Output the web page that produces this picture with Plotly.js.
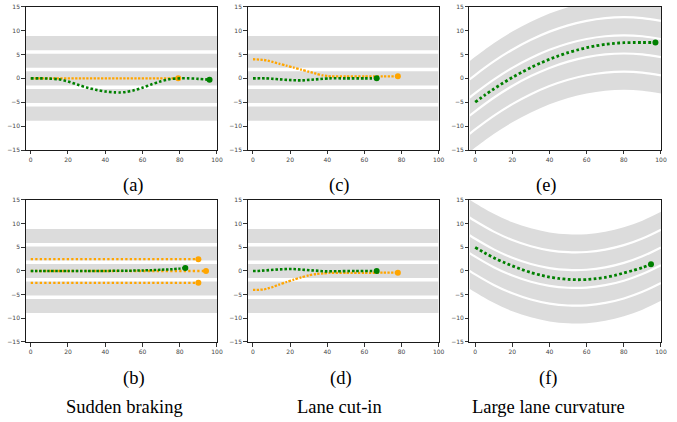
<!DOCTYPE html>
<html><head><meta charset="utf-8">
<script src="https://cdn.plot.ly/plotly-3.0.1.min.js"></script>
<style>html,body{margin:0;padding:0;background:#fff}#chart{width:677px;height:422px}</style>
</head><body><div id="chart"></div>
<script>
// ---------- data ----------
const panelLabels = ["(a)", "(c)", "(e)", "(b)", "(d)", "(f)"];
const captions = ["Sudden braking", "Lane cut-in", "Large lane curvature"];
const xTicks = [0, 20, 40, 60, 80, 100];
const yTicks = [-15, -10, -5, 0, 5, 10, 15];

// straight road: outer edges and lane boundaries
const straightX = [-3, 100];
const straightEdges = [-8.86, 8.86];
const straightBounds = [-5.52, -1.85, 1.85, 5.52];

// curved roads: centre line samples and lane offsets
const curveX = [-3, 0, 10, 20, 30, 40, 50, 60, 70, 80, 90, 100];
const eCenter = [-5.92, -5.0, -2.16, 0.30, 2.37, 4.08, 5.40, 6.34, 6.91, 7.10, 6.91, 6.34];
const fCenter = [5.67, 4.92, 2.69, 0.92, -0.39, -1.26, -1.66, -1.62, -1.12, -0.17, 1.24, 3.10];
const eEdges = [-9.5, 9.5];
const eBounds = [-5.7, -1.9, 1.9, 5.7];
const fEdges = [-9.4, 9.4];
const fBounds = [-5.63, -1.88, 1.88, 5.63];

// (a) sudden braking? (top-left)
const aGreenX = [0, 5, 10, 15, 20, 25, 30, 35, 40, 45, 48, 50, 55, 60, 65, 70, 75, 80, 85, 90, 96];
const aGreenY = [0, 0, -0.05, -0.2, -0.65, -1.3, -1.9, -2.4, -2.75, -2.93, -2.95, -2.9, -2.55, -1.95, -1.25, -0.6, -0.15, 0, 0, -0.1, -0.3];
const aOrangeX = [0, 79.2];
const aOrangeY = [0, 0];

// (b)
const bGreenX = [0, 10, 20, 30, 40, 50, 55, 60, 65, 70, 75, 80, 83];
const bGreenY = [0, 0, 0, 0, 0.02, 0.05, 0.08, 0.12, 0.18, 0.26, 0.36, 0.5, 0.65];
const bOrangeTopX = [0, 90];
const bOrangeTopY = [2.5, 2.5];
const bOrangeMidX = [0, 94.1];
const bOrangeMidY = [0, 0];
const bOrangeLowX = [0, 90];
const bOrangeLowY = [-2.5, -2.5];

// (c)
const cGreenX = [0, 7, 10, 14.5, 19.4, 24.2, 26.6, 31.5, 36.3, 41.1, 50, 60, 66.6];
const cGreenY = [0, 0, -0.07, -0.21, -0.35, -0.42, -0.42, -0.28, -0.14, 0, 0, 0, 0];
const cOrangeX = [0, 2, 4, 6, 8, 10, 14, 18, 22, 26, 30, 34, 37.5, 40, 42, 50, 60, 70, 78];
const cOrangeY = [4.0, 3.98, 3.91, 3.84, 3.7, 3.49, 3.07, 2.65, 2.23, 1.82, 1.4, 0.98, 0.63, 0.49, 0.42, 0.42, 0.42, 0.42, 0.42];

// (d)
const dGreenX = [0, 2.4, 4.8, 9.7, 14.5, 19.4, 21.8, 26.6, 31.5, 36.3, 38.7, 45, 55, 66.6];
const dGreenY = [0, 0, 0.07, 0.21, 0.35, 0.42, 0.42, 0.28, 0.14, 0, -0.07, -0.05, 0, 0];
const dOrangeX = [0, 2, 4, 6, 8, 10, 14, 18, 22, 26, 30, 34, 38, 41.4, 50, 60, 70, 78];
const dOrangeY = [-4.0, -4.0, -3.95, -3.88, -3.66, -3.45, -2.89, -2.32, -1.83, -1.34, -0.92, -0.63, -0.49, -0.4, -0.38, -0.38, -0.36, -0.35];

// (e)
const eGreenX = [0, 5, 10, 15, 20, 25, 30, 35, 40, 45, 50, 55, 60, 65, 70, 75, 80, 85, 90, 97];
const eGreenY = [-5.0, -3.57, -2.23, -0.98, 0.19, 1.27, 2.27, 3.17, 4.0, 4.73, 5.38, 5.94, 6.42, 6.81, 7.11, 7.33, 7.46, 7.5, 7.5, 7.5];

// (f)
const fGreenX = [0, 5, 10, 15, 20, 25, 30, 35, 40, 45, 50, 55, 60, 65, 70, 75, 80, 85, 90, 94.6];
const fGreenY = [4.99, 3.85, 2.8, 1.9, 1.08, 0.33, -0.33, -0.86, -1.27, -1.58, -1.77, -1.85, -1.8, -1.62, -1.35, -0.95, -0.42, 0.12, 0.72, 1.4];

// ---------- styles ----------
const GREEN = "#008000", ORANGE = "#FFA500", ROAD = "#dcdcdc";
const traces = [];

function straightRoad(xa, ya) {
  traces.push({x: straightX, y: straightX.map(() => straightEdges[0]), xaxis: xa, yaxis: ya, mode: "lines", line: {width: 0}, hoverinfo: "skip"});
  traces.push({x: straightX, y: straightX.map(() => straightEdges[1]), xaxis: xa, yaxis: ya, mode: "lines", line: {width: 0}, fill: "tonexty", fillcolor: ROAD, hoverinfo: "skip"});
  straightBounds.forEach(b => traces.push({x: straightX, y: straightX.map(() => b), xaxis: xa, yaxis: ya, mode: "lines", line: {width: 3.5, color: "#ffffff"}, hoverinfo: "skip"}));
}
function curvedRoad(xa, ya, center, edges, bounds) {
  traces.push({x: curveX, y: center.map(c => c + edges[0]), xaxis: xa, yaxis: ya, mode: "lines", line: {width: 0, shape: "spline"}, hoverinfo: "skip"});
  traces.push({x: curveX, y: center.map(c => c + edges[1]), xaxis: xa, yaxis: ya, mode: "lines", line: {width: 0, shape: "spline"}, fill: "tonexty", fillcolor: ROAD, hoverinfo: "skip"});
  bounds.forEach(b => traces.push({x: curveX, y: center.map(c => c + b), xaxis: xa, yaxis: ya, mode: "lines", line: {width: 2.2, color: "#ffffff", shape: "spline"}, hoverinfo: "skip"}));
}
function path(xa, ya, xs, ys, color, w, dash) {
  traces.push({x: xs, y: ys, xaxis: xa, yaxis: ya, mode: "lines", line: {color: color, width: w, dash: dash, shape: "spline", smoothing: 0.6}});
  const n = xs.length - 1;
  traces.push({x: [xs[n]], y: [ys[n]], xaxis: xa, yaxis: ya, mode: "markers", marker: {color: color, size: 6}});
}

// (a) -> x/y
straightRoad("x", "y");
path("x", "y", aOrangeX, aOrangeY, ORANGE, 2.3, "2.3px,1.4px");
path("x", "y", aGreenX, aGreenY, GREEN, 2.6, "2.6px,2.1px");
// (c) -> x2/y2
straightRoad("x2", "y2");
path("x2", "y2", cOrangeX, cOrangeY, ORANGE, 2.3, "2.3px,1.4px");
path("x2", "y2", cGreenX, cGreenY, GREEN, 2.6, "2.6px,1.9px");
// (e) -> x3/y3
curvedRoad("x3", "y3", eCenter, eEdges, eBounds);
path("x3", "y3", eGreenX, eGreenY, GREEN, 2.8, "2.8px,2.4px");
// (b) -> x4/y4
straightRoad("x4", "y4");
path("x4", "y4", bOrangeTopX, bOrangeTopY, ORANGE, 2.3, "2.3px,2.2px");
path("x4", "y4", bOrangeMidX, bOrangeMidY, ORANGE, 2.3, "2.3px,2.2px");
path("x4", "y4", bOrangeLowX, bOrangeLowY, ORANGE, 2.3, "2.3px,2.2px");
path("x4", "y4", bGreenX, bGreenY, GREEN, 2.5, "2.5px,1.6px");
// (d) -> x5/y5
straightRoad("x5", "y5");
path("x5", "y5", dOrangeX, dOrangeY, ORANGE, 2.3, "2.3px,1.4px");
path("x5", "y5", dGreenX, dGreenY, GREEN, 2.6, "2.6px,1.9px");
// (f) -> x6/y6
curvedRoad("x6", "y6", fCenter, fEdges, fBounds);
path("x6", "y6", fGreenX, fGreenY, GREEN, 2.8, "2.8px,2.4px");

const colX = [[0.03796, 0.32053], [0.36588, 0.64801], [0.69350, 0.97637]];
const rowY = [[0.64455, 0.98412], [0.18957, 0.52607]];
const xLeft = [-2.7, -2.85, -3.05];

function axX(col, anchor) {
  return {domain: colX[col], range: [xLeft[col], 100], anchor: anchor, tickvals: xTicks, ticks: "outside", ticklen: 3.5, tickwidth: 0.8, tickcolor: "#000",
    showline: true, mirror: true, linecolor: "#1a1a1a", linewidth: 1, showgrid: false, zeroline: false,
    tickfont: {family: "DejaVu Sans", size: 6, color: "#444"}};
}
function axY(row, anchor) {
  return {domain: rowY[row], range: [-15, 15], anchor: anchor, tickvals: yTicks, ticks: "outside", ticklen: 3.5, tickwidth: 0.8, tickcolor: "#000",
    showline: true, mirror: true, linecolor: "#1a1a1a", linewidth: 1, showgrid: false, zeroline: false,
    tickfont: {family: "DejaVu Sans", size: 6, color: "#444"}};
}

const serif = {family: "Liberation Serif, Times New Roman, serif", size: 18.5, color: "#000"};
const labelPos = [[0.1975, 0.5616], [0.5022, 0.5616], [0.8075, 0.5616], [0.1975, 0.1024], [0.5041, 0.1024], [0.8092, 0.1024]];
const capX = [0.1832, 0.5022, 0.8095];
const annotations = [];
panelLabels.forEach((t, i) => annotations.push({text: t, x: labelPos[i][0], y: labelPos[i][1], xref: "paper", yref: "paper", xanchor: "center", yanchor: "middle", showarrow: false, font: serif}));
captions.forEach((t, i) => annotations.push({text: t, x: capX[i], y: 0.0355, xref: "paper", yref: "paper", xanchor: "center", yanchor: "middle", showarrow: false, font: serif}));

const layout = {
  width: 677, height: 422, margin: {l: 0, r: 0, t: 0, b: 0},
  paper_bgcolor: "#fff", plot_bgcolor: "#fff", showlegend: false,
  xaxis: axX(0, "y"), yaxis: axY(0, "x"),
  xaxis2: axX(1, "y2"), yaxis2: axY(0, "x2"),
  xaxis3: axX(2, "y3"), yaxis3: axY(0, "x3"),
  xaxis4: axX(0, "y4"), yaxis4: axY(1, "x4"),
  xaxis5: axX(1, "y5"), yaxis5: axY(1, "x5"),
  xaxis6: axX(2, "y6"), yaxis6: axY(1, "x6"),
  annotations: annotations
};
Plotly.newPlot("chart", traces, layout, {staticPlot: true, displayModeBar: false});
</script></body></html>
